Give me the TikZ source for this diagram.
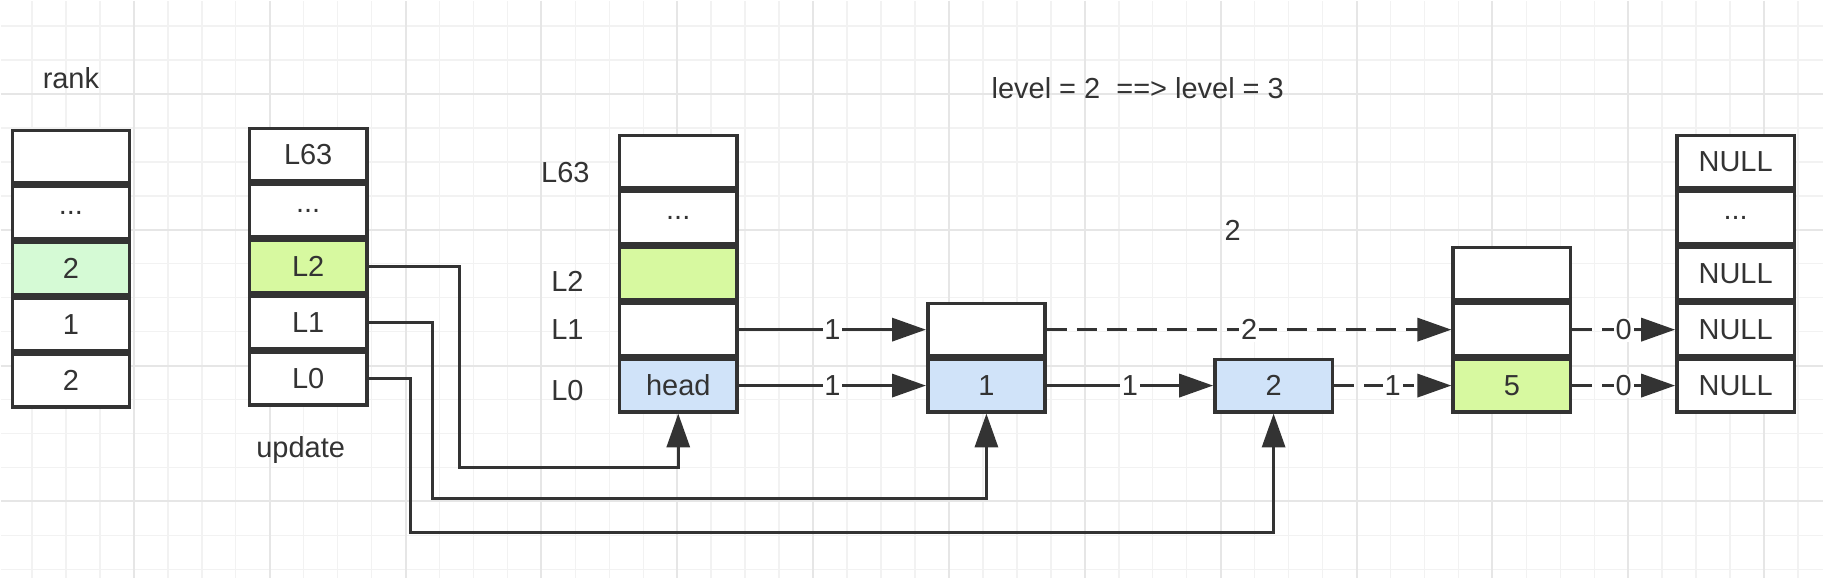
\documentclass[tikz,border=0pt]{standalone}
\usepackage{fontspec}
\setmainfont{Liberation Sans}
\usetikzlibrary{arrows.meta, positioning}
\definecolor{LineGray}{HTML}{333333}
\definecolor{CellBlue}{HTML}{D0E3F9}
\definecolor{CellGreen}{HTML}{D7F9A0}
\definecolor{RankGreen}{HTML}{D5FAD5}
\definecolor{GridMinor}{HTML}{F2F2F2}
\definecolor{GridMajor}{HTML}{E6E6E6}

\begin{document}
\begin{tikzpicture}[x=0.02cm, y=-0.02cm, node distance=0pt, font=\fontsize{16.5}{19}\selectfont, text=LineGray,
    cell/.style={draw=LineGray, line width=0.07cm, fill=white, minimum width=2.35cm, minimum height=1.05cm, inner sep=0pt},
    elabel/.style={fill=white, inner sep=1pt},
    link/.style={draw=LineGray, line width=0.07cm, -{Triangle[length=0.68cm, width=0.46cm]}},
    dlink/.style={link, dash pattern=on 0.4cm off 0.2cm}]
                % Background grid
                \fill[white] (0,0) rectangle (1824,578);
                \foreach \i in {1,...,53} \draw[GridMinor, line width=0.03cm] (-3+34*\i,0) -- (-3+34*\i,578);
                \foreach \i in {0,...,16} \draw[GridMinor, line width=0.03cm] (0,25+34*\i) -- (1824,25+34*\i);
                \foreach \i in {0,...,12} \draw[GridMajor, line width=0.04cm] (133+136*\i,0) -- (133+136*\i,578);
                \foreach \i in {0,...,3} \draw[GridMajor, line width=0.04cm] (0,93+136*\i) -- (1824,93+136*\i);
                \useasboundingbox (0,0) rectangle (1824,578);

                % Nodes
                \node (rank) at (70,77) {rank};
                \node (rk0) [cell] at (70,380) {2};
                \node (rk1) [cell, above=of rk0] {1};
                \node (rk2) [cell, above=of rk1, fill=RankGreen] {2};
                \node (rk3) [cell, above=of rk2] {...};
                \node (rk4) [cell, above=of rk3] {};

                \node (uL0) [cell] at (307.5,378) {L0};
                \node (uL1) [cell, above=of uL0] {L1};
                \node (uL2) [cell, above=of uL1, fill=CellGreen] {L2};
                \node (uLd) [cell, above=of uL2] {...};
                \node (uL63) [cell, above=of uLd] {L63};
                \node (update) at (300,450) {update};

                \node (hd) [cell, fill=CellBlue] at (678,385) {head};
                \node (h1) [cell, above=of hd] {};
                \node (h2) [cell, above=of h1, fill=CellGreen] {};
                \node (hdots) [cell, above=of h2] {...};
                \node (h63) [cell, above=of hdots] {};
                \node (tag63) at (565,172) {L63};
                \node (tag2) at (567,281) {L2};
                \node (tag1) at (567,329) {L1};
                \node (tag0) at (567,390) {L0};

                \node (n1b) [cell, fill=CellBlue] at (986.5,385) {1};
                \node (n1t) [cell, above=of n1b] {};
                \node (n2) [cell, fill=CellBlue] at (1274,385) {2};
                \node (n5b) [cell, fill=CellGreen] at (1512.5,385) {5};
                \node (n5a) [cell, above=of n5b] {};
                \node (n5c) [cell, above=of n5a] {};

                \node (nl0) [cell] at (1736.5,385) {NULL};
                \node (nl1) [cell, above=of nl0] {NULL};
                \node (nl2) [cell, above=of nl1] {NULL};
                \node (nld) [cell, above=of nl2] {...};
                \node (nl63) [cell, above=of nld] {NULL};

                \node (level) at (1138,87) {level = 2\ \ ==> level = 3};
                \node (span) at (1233,230) {2};

                % Paths
                \draw[link] (h1) -- node[elabel] {1} (n1t);
                \draw[link] (hd) -- node[elabel] {1} (n1b);
                \draw[link] (n1b) -- node[elabel] {1} (n2);
                \draw[dlink] (n1t) -- node[elabel] {2} (n5a);
                \draw[dlink] (n2) -- node[elabel] {1} (n5b);
                \draw[dlink] (n5a) -- node[elabel] {0} (nl1);
                \draw[dlink] (n5b) -- node[elabel] {0} (nl0);

                % update links
                \draw[link] (uL2.east) -- ++(91,0) -- ++(0,201) -| (hd.south);
                \draw[link] (uL1.east) -- ++(64,0) -- ++(0,176) -| (n1b.south);
                \draw[link] (uL0.east) -- ++(42,0) -- ++(0,154) -| (n2.south);
            \end{tikzpicture}
\end{document}
